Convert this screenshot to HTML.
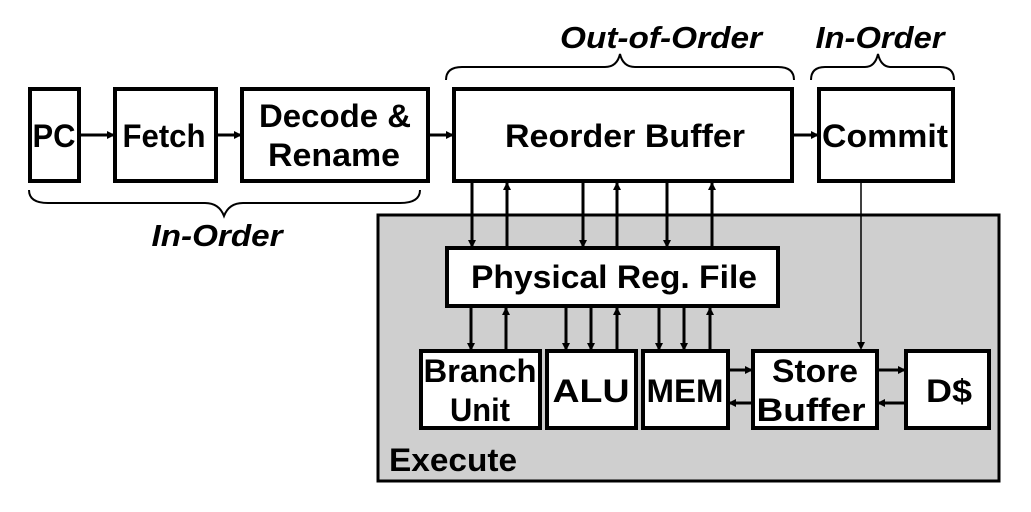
<!DOCTYPE html>
<html><head><style>
html,body{margin:0;padding:0;background:#fff;}
svg{display:block}
text{font-family:"Liberation Sans",Arial,sans-serif;font-weight:bold;fill:#000}
</style></head><body>
<svg width="1031" height="512" viewBox="0 0 1031 512">
<defs>
<marker id="a" markerWidth="8" markerHeight="8" refX="7" refY="4" orient="auto" markerUnits="userSpaceOnUse">
<path d="M0,0 L8,4 L0,8 z" fill="#000"/></marker>
</defs>
<rect width="1031" height="512" fill="#fff"/>
<rect x="378" y="215" width="621" height="266" fill="#cfcfcf" stroke="#000" stroke-width="3"/>
<text x="389" y="471" font-size="32" textLength="128" lengthAdjust="spacingAndGlyphs">Execute</text>
<g fill="#fff" stroke="#000" stroke-width="4">
<rect x="30" y="89" width="49" height="92"/>
<rect x="115" y="89" width="101" height="92"/>
<rect x="242" y="89" width="186" height="92"/>
<rect x="454" y="89" width="338" height="92"/>
<rect x="819" y="89" width="134" height="92"/>
<rect x="447" y="248" width="331" height="58"/>
<rect x="421" y="351" width="119" height="77"/>
<rect x="547" y="351" width="89" height="77"/>
<rect x="643" y="351" width="85" height="77"/>
<rect x="753" y="351" width="124" height="77"/>
<rect x="906" y="351" width="83" height="77"/>
</g>
<g font-size="32" text-anchor="middle">
<text x="54" y="147" textLength="43" lengthAdjust="spacingAndGlyphs">PC</text>
<text x="164" y="147" textLength="83" lengthAdjust="spacingAndGlyphs">Fetch</text>
<text x="335" y="127" textLength="152" lengthAdjust="spacingAndGlyphs">Decode &amp;</text>
<text x="334" y="166" textLength="132" lengthAdjust="spacingAndGlyphs">Rename</text>
<text x="625" y="147" textLength="240" lengthAdjust="spacingAndGlyphs">Reorder Buffer</text>
<text x="885" y="147" textLength="126" lengthAdjust="spacingAndGlyphs">Commit</text>
<text x="614" y="288" textLength="286" lengthAdjust="spacingAndGlyphs">Physical Reg. File</text>
<text x="480" y="382" textLength="113" lengthAdjust="spacingAndGlyphs">Branch</text>
<text x="480" y="421" textLength="60" lengthAdjust="spacingAndGlyphs">Unit</text>
<text x="591" y="402" textLength="77" lengthAdjust="spacingAndGlyphs">ALU</text>
<text x="685" y="402" textLength="77" lengthAdjust="spacingAndGlyphs">MEM</text>
<text x="815" y="382" textLength="86" lengthAdjust="spacingAndGlyphs">Store</text>
<text x="811" y="421" textLength="109" lengthAdjust="spacingAndGlyphs">Buffer</text>
<text x="949" y="402" textLength="46" lengthAdjust="spacingAndGlyphs">D$</text>
</g>
<g font-size="31" font-style="italic" text-anchor="middle">
<text x="661" y="48" textLength="202" lengthAdjust="spacingAndGlyphs">Out-of-Order</text>
<text x="880" y="48" textLength="129" lengthAdjust="spacingAndGlyphs">In-Order</text>
<text x="217" y="246" textLength="131" lengthAdjust="spacingAndGlyphs">In-Order</text>
</g>
<g fill="none" stroke="#000" stroke-width="2">
<path d="M446,80 Q446,67 462,67 L605,67 Q617,67 620,54 Q623,67 635,67 L778,67 Q794,67 794,80"/>
<path d="M811,80 Q811,67 825,67 L865,67 Q875,67 878,54 Q881,67 891,67 L940,67 Q954,67 954,80"/>
<path d="M29,190 Q29,203 48,203 L205,203 Q219,203 224,216 Q229,203 243,203 L400,203 Q420,203 420,190"/>
</g>
<g stroke="#000" stroke-width="3" marker-end="url(#a)">
<line x1="79" y1="135" x2="114" y2="135"/>
<line x1="216" y1="135" x2="241" y2="135"/>
<line x1="428" y1="135" x2="453" y2="135"/>
<line x1="792" y1="135" x2="818" y2="135"/>
<line x1="472" y1="183" x2="472" y2="247"/>
<line x1="507" y1="247" x2="507" y2="183"/>
<line x1="583" y1="183" x2="583" y2="247"/>
<line x1="617" y1="247" x2="617" y2="183"/>
<line x1="667" y1="183" x2="667" y2="247"/>
<line x1="712" y1="247" x2="712" y2="183"/>
<line x1="471" y1="308" x2="471" y2="350"/>
<line x1="506" y1="350" x2="506" y2="308"/>
<line x1="566" y1="308" x2="566" y2="350"/>
<line x1="591" y1="308" x2="591" y2="350"/>
<line x1="617" y1="350" x2="617" y2="308"/>
<line x1="659" y1="308" x2="659" y2="350"/>
<line x1="684" y1="308" x2="684" y2="350"/>
<line x1="710" y1="350" x2="710" y2="308"/>
<line x1="729" y1="370" x2="752" y2="370"/>
<line x1="752" y1="403" x2="729" y2="403"/>
<line x1="878" y1="370" x2="905" y2="370"/>
<line x1="905" y1="403" x2="878" y2="403"/>
</g>
<line x1="861" y1="182" x2="861" y2="345" stroke="#000" stroke-width="1.5"/>
<path d="M857,342 L861,350 L865,342 z" fill="#000"/>
</svg>
</body></html>
